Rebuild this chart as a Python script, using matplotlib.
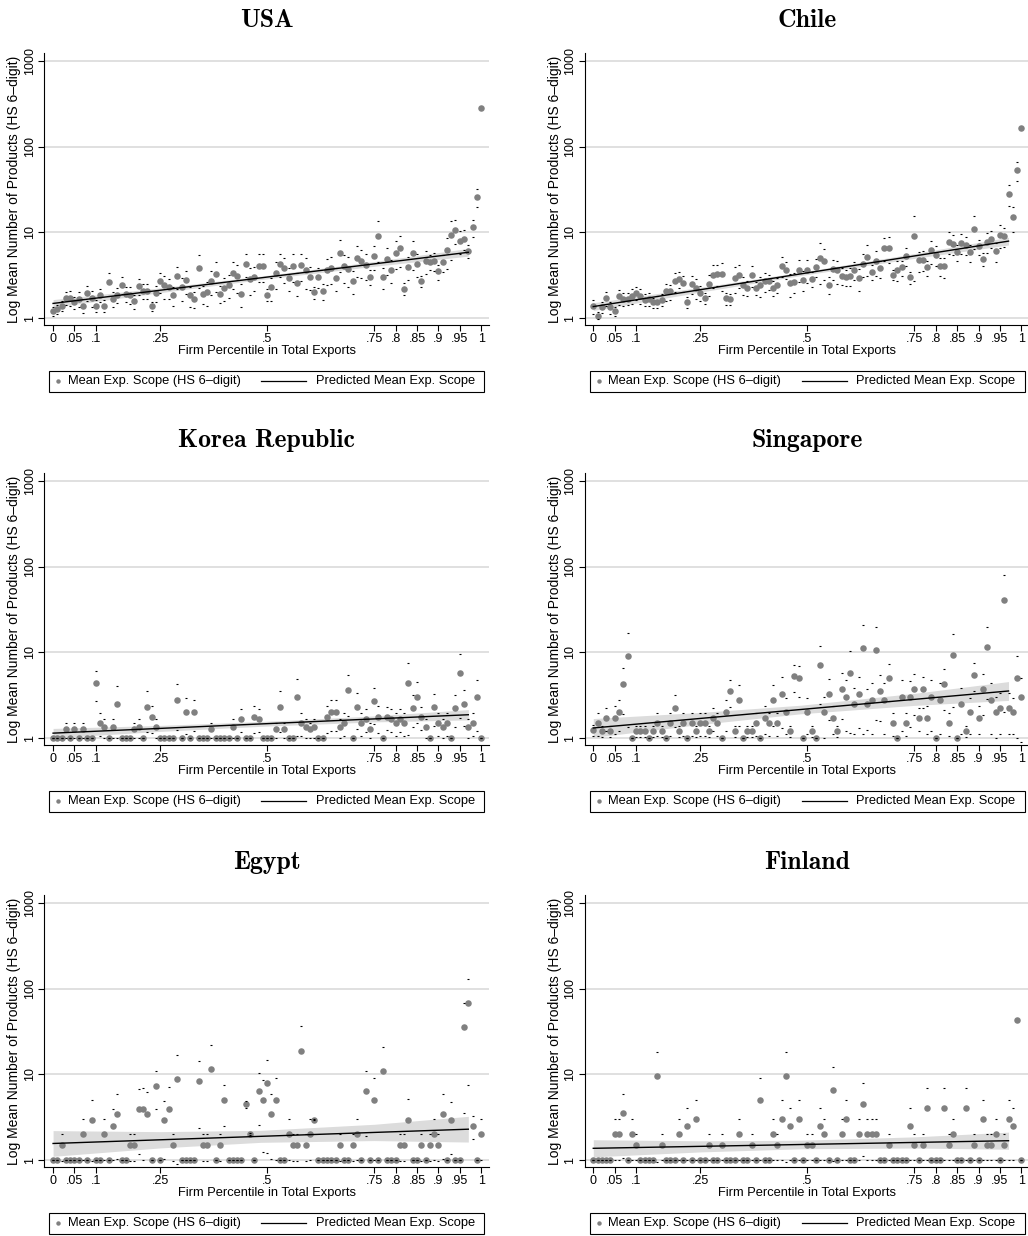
import numpy as np
import matplotlib.pyplot as plt
from matplotlib.lines import Line2D
from matplotlib.patches import Rectangle
from matplotlib.ticker import NullLocator

plt.rcParams['font.family'] = ['Liberation Sans', 'DejaVu Sans']

# percentiles 0, .01, ..., 1
pct = np.arange(101) / 100

xtick_vals = [0, .05, .1, .25, .5, .75, .8, .85, .9, .95, 1]
xtick_labs = ["0", ".05", ".1", ".25", ".5", ".75", ".8", ".85", ".9", ".95", "1"]
ytick_vals = [1, 10, 100, 1000]

# mean export scope per percentile, and relative half-width of its CI
usa_mean = [1.2, 1.27, 1.4, 1.71, 1.71, 1.52, 1.67, 1.4, 1.96, 1.7,
            1.39, 1.87, 1.4, 2.6, 1.67, 1.87, 2.45, 1.92, 1.87, 1.56,
            2.35, 2.08, 2.08, 1.39, 1.96, 2.68, 2.4, 2.28, 1.84, 3.06,
            2.28, 2.75, 1.84, 1.67, 3.87, 1.9, 2.0, 2.7, 3.26, 1.92,
            2.24, 2.45, 3.35, 3.06, 1.92, 4.3, 2.85, 3.0, 4.1, 4.08,
            1.87, 2.28, 3.35, 4.3, 3.8, 2.93, 4.1, 2.55, 4.15, 3.6,
            3.05, 1.99, 3.05, 2.06, 3.65, 3.83, 2.93, 5.8, 4.0, 3.73,
            2.7, 4.97, 4.58, 4.2, 3.0, 5.26, 9.1, 3.0, 4.9, 3.67,
            5.8, 6.55, 2.2, 3.94, 5.75, 4.25, 2.68, 4.66, 4.55, 4.6,
            3.5, 4.46, 6.15, 9.2, 10.7, 7.9, 8.4, 6.1, 11.4, 26, 282]
usa_ci = [0.12, 0.12, 0.14, 0.18, 0.2, 0.16, 0.2, 0.18, 0.2, 0.2,
          0.16, 0.18, 0.16, 0.3, 0.2, 0.2, 0.22, 0.2, 0.22, 0.18,
          0.22, 0.2, 0.2, 0.12, 0.22, 0.26, 0.3, 0.26, 0.24, 0.28,
          0.3, 0.3, 0.26, 0.22, 0.42, 0.24, 0.3, 0.32, 0.38, 0.22,
          0.3, 0.3, 0.34, 0.36, 0.3, 0.3, 0.34, 0.32, 0.36, 0.36,
          0.16, 0.3, 0.34, 0.3, 0.32, 0.3, 0.36, 0.3, 0.34, 0.4,
          0.3, 0.16, 0.26, 0.22, 0.34, 0.35, 0.3, 0.4, 0.36, 0.38,
          0.3, 0.4, 0.36, 0.34, 0.2, 0.3, 0.5, 0.28, 0.35, 0.3,
          0.36, 0.4, 0.16, 0.3, 0.36, 0.3, 0.14, 0.3, 0.2, 0.24,
          0.2, 0.22, 0.4, 0.48, 0.32, 0.3, 0.26, 0.18, 0.22, 0.24, np.nan]

chile_mean = [1.37, 1.07, 1.34, 1.7, 1.34, 1.2, 1.79, 1.67, 1.67, 1.82,
              1.96, 1.82, 1.64, 1.67, 1.52, 1.55, 1.64, 2.05, 2.05, 2.68,
              2.85, 2.56, 1.54, 2.5, 2.24, 1.96, 1.71, 2.5, 3.2, 3.26,
              3.26, 1.71, 1.67, 2.93, 3.2, 2.45, 2.24, 3.2, 2.24, 2.4,
              2.68, 2.68, 2.24, 2.45, 4.08, 3.67, 2.54, 2.63, 3.67, 2.8,
              3.67, 2.85, 3.94, 5.0, 4.6, 2.45, 3.73, 3.6, 3.12, 3.0,
              3.12, 3.67, 2.9, 4.25, 5.1, 3.47, 4.58, 3.8, 6.55, 6.65,
              3.2, 3.67, 3.9, 5.26, 2.98, 9.1, 4.7, 4.8, 3.9, 6.15,
              5.45, 4.1, 4.0, 7.8, 7.3, 5.9, 7.6, 7.2, 5.85, 11.0,
              6.85, 4.9, 7.7, 8.4, 6.0, 9.4, 9.0, 28, 15, 53, 165]
chile_ci = [0.18, 0.1, 0.14, 0.18, 0.16, 0.12, 0.2, 0.18, 0.16, 0.2,
            0.18, 0.2, 0.16, 0.18, 0.14, 0.16, 0.16, 0.22, 0.2, 0.24,
            0.22, 0.22, 0.14, 0.24, 0.26, 0.2, 0.14, 0.28, 0.3, 0.28,
            0.36, 0.16, 0.14, 0.34, 0.3, 0.24, 0.2, 0.28, 0.18, 0.26,
            0.24, 0.2, 0.2, 0.2, 0.26, 0.22, 0.3, 0.26, 0.28, 0.26,
            0.3, 0.2, 0.24, 0.5, 0.4, 0.22, 0.26, 0.3, 0.22, 0.22,
            0.24, 0.24, 0.28, 0.3, 0.4, 0.2, 0.32, 0.22, 0.3, 0.34,
            0.14, 0.26, 0.2, 0.24, 0.16, 0.7, 0.26, 0.26, 0.2, 0.3,
            0.26, 0.24, 0.26, 0.28, 0.26, 0.22, 0.26, 0.24, 0.22, 0.42,
            0.2, 0.18, 0.26, 0.22, 0.24, 0.3, 0.26, 0.28, 0.33, 0.25, np.nan]

korea_mean = [1, 1, 1, 1.26, 1, 1.26, 1, 1.26, 1, 1,
              4.34, 1.5, 1.34, 1, 1.34, 2.5, 1, 1, 1, 1.26,
              1.34, 1, 2.33, 1.75, 1.34, 1, 1, 1, 1, 2.77,
              1, 2.0, 1, 2.0, 1, 1, 1, 1.26, 1, 1,
              1, 1, 1.34, 1, 1.67, 1, 1, 1.75, 1.67, 1,
              1, 1, 1.26, 2.33, 1.26, 1, 1, 3.0, 1.5, 1.34,
              1.26, 1.34, 1, 1, 1.75, 2.0, 2.0, 1.34, 1.5, 3.66,
              1, 2.33, 1.5, 1.67, 1.26, 2.67, 1.75, 1, 1.75, 1.67,
              1.5, 1.67, 1.5, 4.34, 2.25, 3.0, 1.75, 1.34, 1, 2.33,
              1.5, 1.34, 1.5, 1, 2.25, 5.68, 2.5, 1.34, 1.5, 3.0, 1]
korea_ci = [0, 0, 0, 0.2, 0, 0.2, 0, 0.2, 0, 0,
            0.38, 0.3, 0.25, 0, 0.25, 0.6, 0, 0, 0, 0.2,
            0.25, 0, 0.5, 0.35, 0.25, 0, 0, 0, 0, 0.55,
            0, 0.45, 0, 0.4, 0, 0, 0, 0.2, 0, 0,
            0, 0, 0.25, 0, 0.3, 0, 0, 0.35, 0.3, 0,
            0, 0, 0.2, 0.5, 0.2, 0, 0, 0.65, 0.3, 0.25,
            0.2, 0.25, 0, 0, 0.35, 0.4, 0.4, 0.25, 0.3, 0.5,
            0, 0.45, 0.3, 0.3, 0.2, 0.45, 0.35, 0, 0.3, 0.3,
            0.3, 0.3, 0.3, 0.75, 0.4, 0.5, 0.3, 0.25, 0, 0.4,
            0.3, 0.25, 0.3, 0, 0.4, 0.7, 0.45, 0.25, 0.3, 0.6, 0]

singapore_mean = [1.25, 1.5, 1.2, 1.73, 1.2, 1.73, 2.0, 4.24, 9.0, 1.0,
                  1.2, 1.2, 1.2, 1.0, 1.2, 1.5, 1.2, 1.0, 1.5, 2.24,
                  1.2, 1.5, 1.0, 1.5, 1.2, 1.5, 1.5, 1.2, 1.73, 1.5,
                  1.0, 2.0, 3.5, 1.2, 2.75, 1.0, 1.2, 1.2, 1.5, 1.0,
                  1.73, 1.5, 2.75, 1.5, 3.24, 2.0, 1.2, 5.25, 4.98, 1.0,
                  2.0, 1.2, 1.0, 7.2, 2.0, 3.24, 1.73, 1.2, 3.73, 2.98,
                  5.7, 2.47, 3.24, 11.1, 2.47, 2.75, 10.7, 3.5, 2.75, 4.98,
                  1.5, 1.0, 2.98, 1.5, 2.98, 3.73, 1.73, 3.73, 1.73, 2.98,
                  1.0, 2.75, 4.24, 1.5, 9.25, 1.0, 2.47, 1.2, 2.0, 5.5,
                  1.73, 3.73, 11.4, 2.75, 2.0, 2.24, 40.6, 2.24, 2.0, 4.98, 2.98]
singapore_ci = [0.15, 0.3, 0.15, 0.3, 0.15, 0.35, 0.4, 0.55, 0.85, 0,
                0.15, 0.15, 0.15, 0, 0.15, 0.3, 0.15, 0, 0.3, 0.4,
                0.15, 0.3, 0, 0.3, 0.15, 0.3, 0.3, 0.15, 0.3, 0.3,
                0, 0.4, 0.35, 0.15, 0.5, 0, 0.15, 0.15, 0.3, 0,
                0.35, 0.3, 0.5, 0.3, 0.6, 0.45, 0.15, 0.35, 0.4, 0,
                0.45, 0.15, 0, 0.65, 0.5, 0.5, 0.35, 0.15, 0.55, 0.6,
                0.8, 0.55, 0.6, 0.9, 0.5, 0.6, 0.85, 0.55, 0.6, 0.45,
                0.3, 0, 0.6, 0.3, 0.55, 0.5, 0.3, 0.4, 0.35, 0.6,
                0, 0.6, 0.5, 0.3, 0.75, 0, 0.55, 0.15, 0.45, 0.35,
                0.35, 0.5, 0.75, 0.6, 0.5, 0.5, 0.95, 0.5, 0.45, 0.8, 0.7]

egypt_mean = [1, 1, 1.48, 1, 1, 1, 1, 2.0, 1, 2.97,
              1, 1, 2.0, 1, 2.48, 3.47, 1, 1, 1.48, 1.48,
              3.97, 3.97, 3.47, 1, 7.4, 1, 2.97, 3.97, 1.48, 8.9,
              1, 1, 1, 1, 8.4, 1.48, 1.48, 11.4, 1, 1.48,
              4.97, 1, 1, 1, 1, 4.46, 2.0, 1, 6.4, 4.97,
              7.95, 3.47, 4.97, 1, 1, 2.0, 1.48, 1.48, 18.9, 1.48,
              2.0, 2.97, 1, 1, 1, 1, 1, 1.48, 1, 1,
              1.48, 2.0, 1, 6.4, 1, 4.97, 1, 10.9, 1, 1,
              1, 1.48, 1.48, 2.97, 1, 1, 1.48, 1, 1.48, 2.0,
              1.48, 3.47, 1, 2.97, 1, 1, 35.7, 68.8, 2.48, 1, 2.0]
egypt_ci = [0, 0, 0.35, 0, 0, 0, 0, 0.5, 0, 0.67,
            0, 0, 0.5, 0, 0.6, 0.7, 0, 0, 0.35, 0.35,
            0.7, 0.75, 0.8, 0, 0.47, 0, 0.65, 0.8, 0.35, 0.9,
            0, 0, 0, 0, 0.72, 0.35, 0.35, 0.93, 0, 0.35,
            0.5, 0, 0, 0, 0, 0.1, 0.02, 0, 0.6, 0.75,
            0.85, 0.7, 0.8, 0, 0, 0.5, 0.35, 0.35, 0.96, 0.35,
            0.5, 0.02, 0, 0, 0, 0, 0, 0.35, 0, 0,
            0.35, 0.5, 0, 0.7, 0, 0.8, 0, 0.93, 0, 0,
            0, 0.35, 0.35, 0.75, 0, 0, 0.35, 0, 0.35, 0.5,
            0.35, 0.7, 0, 0.6, 0, 0, 0.9, 0.89, 0.3, 0, 0.5]

finland_mean = [1, 1, 1, 1, 1, 2.0, 2.0, 3.5, 1, 2.0,
                1.5, 1, 1, 1, 1, 9.5, 1.5, 1, 1, 1,
                2.0, 1, 2.5, 1, 3.0, 1, 1, 1.5, 1, 1,
                1.5, 1, 1, 1, 2.0, 1, 1, 1.5, 1, 5.0,
                1, 1, 2.0, 1.5, 3.0, 9.5, 2.5, 1, 3.0, 1,
                1.5, 1.5, 1, 2.5, 2.0, 1, 6.5, 1, 2.0, 3.0,
                1, 1, 2.0, 4.47, 2.0, 2.0, 2.0, 1, 1, 1.5,
                1, 1, 1, 1, 2.5, 1.5, 1, 1.5, 4.0, 1,
                1, 1, 4.0, 1.5, 2.0, 1, 1, 4.0, 1, 1.5,
                1, 3.0, 1.5, 1.5, 2.0, 1, 1.5, 3.0, 2.5, 43, 1]
finland_ci = [0, 0, 0, 0, 0, 0.5, 0.5, 0.7, 0, 0.5,
              0.33, 0, 0, 0, 0, 0.9, 0.33, 0, 0, 0,
              0.5, 0, 0.6, 0, 0.67, 0, 0, 0.33, 0, 0,
              0.33, 0, 0, 0, 0.5, 0, 0, 0.33, 0, 0.8,
              0, 0, 0.5, 0.33, 0.67, 0.9, 0.6, 0, 0.67, 0,
              0.33, 0.33, 0, 0.6, 0.5, 0, 0.85, 0, 0.5, 0.67,
              0, 0, 0.5, 0.75, 0.5, 0.5, 0.5, 0, 0, 0.33,
              0, 0, 0, 0, 0.6, 0.33, 0, 0.33, 0.75, 0,
              0, 0, 0.75, 0.33, 0.5, 0, 0, 0.75, 0, 0.33,
              0, 0.67, 0.33, 0.33, 0.5, 0, 0.33, 0.67, 0.6, np.nan, 0]

# predicted line (value at x=0 and at x=.97) and log10 half-width of its band
fit_x = [0, 0.97]
band_x = [0, 0.25, 0.485, 0.75, 0.97]
usa_fit, usa_band = [1.48, 5.85], [0.045, 0.028, 0.02, 0.028, 0.045]
chile_fit, chile_band = [1.36, 7.9], [0.045, 0.028, 0.02, 0.028, 0.045]
korea_fit, korea_band = [1.14, 1.87], [0.055, 0.035, 0.028, 0.035, 0.06]
singapore_fit, singapore_band = [1.31, 3.54], [0.11, 0.07, 0.05, 0.07, 0.11]
egypt_fit, egypt_band = [1.56, 2.29], [0.15, 0.095, 0.07, 0.095, 0.15]
finland_fit, finland_band = [1.37, 1.68], [0.1, 0.065, 0.05, 0.065, 0.1]

panels = [
    ("USA", usa_mean, usa_ci, usa_fit, usa_band),
    ("Chile", chile_mean, chile_ci, chile_fit, chile_band),
    ("Korea Republic", korea_mean, korea_ci, korea_fit, korea_band),
    ("Singapore", singapore_mean, singapore_ci, singapore_fit, singapore_band),
    ("Egypt", egypt_mean, egypt_ci, egypt_fit, egypt_band),
    ("Finland", finland_mean, finland_ci, finland_fit, finland_band),
]

FW, FH = 1028, 1236
AW, AH = 445, 272
col_left = [44.3, 584.5]
row_bottom = [325, 745, 1167]

fig = plt.figure(figsize=(FW / 100, FH / 100), dpi=100)

for i, (name, mean, ci, fit, band) in enumerate(panels):
    L = col_left[i % 2]
    B = row_bottom[i // 2]
    ax = fig.add_axes([L / FW, 1 - B / FH, AW / FW, AH / FH])
    ax.set_yscale("log")

    mean = np.array(mean, dtype=float)
    ci = np.array(ci, dtype=float)
    hi = mean * (1 + ci)
    lo = mean * (1 - ci)
    lo = np.where(lo > 0, lo, np.nan)

    # confidence band of the prediction
    centre = 10 ** np.interp(band_x, fit_x, np.log10(fit))
    bw = np.array(band)
    ax.fill_between(band_x, centre / 10 ** bw, centre * 10 ** bw,
                    color="#dcdcdc", lw=0, zorder=2)

    ax.scatter(pct, mean, s=22, color="#808080", linewidths=0, zorder=3)
    ax.plot(pct, hi, ls="none", marker="_", ms=1.8, mew=0.8, color="black", zorder=4)
    ax.plot(pct, lo, ls="none", marker="_", ms=1.8, mew=0.8, color="black", zorder=4)
    ax.plot(fit_x, fit, color="black", lw=1.0, zorder=5)

    ax.set_xlim(-0.0205, 1.019)
    ax.set_ylim(0.829, 1240)
    ax.set_yticks(ytick_vals)
    ax.set_yticklabels([str(v) for v in ytick_vals], rotation=90, va="center")
    ax.yaxis.set_minor_locator(NullLocator())
    ax.set_xticks(xtick_vals)
    ax.set_xticklabels(xtick_labs)
    ax.yaxis.grid(True, color="#dadada", lw=1.2)
    ax.set_axisbelow(True)
    for s in ["top", "right"]:
        ax.spines[s].set_visible(False)
    for s in ["left", "bottom"]:
        ax.spines[s].set_linewidth(0.8)
    ax.tick_params(direction="out", length=4, width=0.8, labelsize=9, pad=2)

    ax.set_xlabel("Firm Percentile in Total Exports", fontsize=9.3, labelpad=0)
    ax.set_ylabel("Log Mean Number of Products (HS 6\u2013digit)", fontsize=10)
    ax.yaxis.set_label_coords(-23 / AW, 0.5)

    ax.text(0.5, 1.095, name, transform=ax.transAxes, ha="center", va="baseline",
            fontfamily="cmb10", fontsize=18.5)

    # legend box under the panel
    ly = -56 / AH
    ax.add_patch(Rectangle((5 / AW, -66.7 / AH), 435 / AW, 21 / AH,
                           transform=ax.transAxes, fill=False, ec="black",
                           lw=0.8, clip_on=False))
    ax.add_artist(Line2D([14 / AW], [ly], marker="o", ms=3.2, color="#808080",
                         ls="none", mew=0, transform=ax.transAxes, clip_on=False))
    ax.text(24 / AW, ly, "Mean Exp. Scope (HS 6\u2013digit)", transform=ax.transAxes,
            va="center", fontsize=9.3)
    ax.add_artist(Line2D([217 / AW, 262 / AW], [ly, ly], color="black", lw=0.9,
                         transform=ax.transAxes, clip_on=False))
    ax.text(272 / AW, ly, "Predicted Mean Exp. Scope", transform=ax.transAxes,
            va="center", fontsize=9.3)

fig.savefig("out.png", dpi=100)
